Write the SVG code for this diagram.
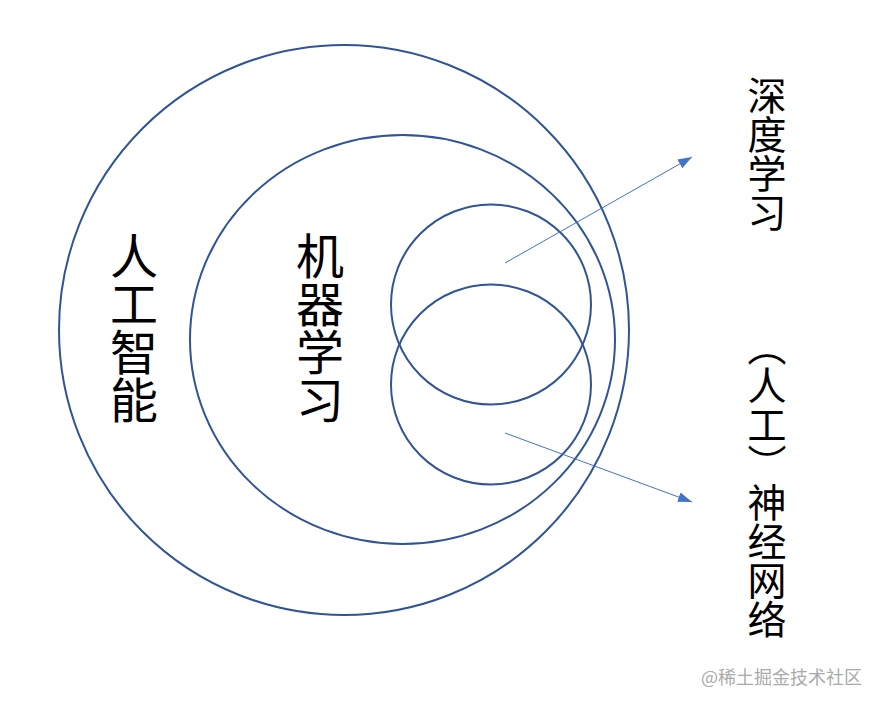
<svg xmlns="http://www.w3.org/2000/svg" width="883" height="707" viewBox="0 0 883 707">
  <style>
    .ring { fill: none; stroke: #2F5597; stroke-width: 2; }
    .arrow { fill: none; stroke: #4472C4; stroke-width: 1; }
    .vt { font-family: "Noto Sans CJK SC", "Noto Sans", sans-serif; fill: #000; writing-mode: vertical-rl; }
    .big { font-size: 48px; }
    .mid { font-size: 39px; }
    .wm { font-family: "Noto Sans CJK SC", "Noto Sans", sans-serif; font-size: 18px; fill: #aaaaaa; }
  </style>
  <defs>
    <marker id="ah" viewBox="0 0 14 10" markerWidth="14" markerHeight="10" refX="14" refY="5" orient="auto" markerUnits="userSpaceOnUse">
      <path d="M0,0 L14,5 L0,10 Z" fill="#4472C4"/>
    </marker>
  </defs>
  <rect width="883" height="707" fill="#ffffff"/>
  <g id="ai">
    <circle class="ring" cx="344" cy="330" r="285"/>
    <text class="vt big" x="134" y="232">人工智能</text>
  </g>
  <g id="ml">
    <ellipse class="ring" cx="402.5" cy="339.5" rx="212.5" ry="204.5"/>
    <text class="vt big" x="320" y="232">机器学习</text>
  </g>
  <g id="dl">
    <circle class="ring" cx="491" cy="304.5" r="100"/>
  </g>
  <g id="nn">
    <circle class="ring" cx="491" cy="384.5" r="100"/>
  </g>
  <g id="label-dl">
    <text class="vt mid" x="767" y="76">深度学习</text>
  </g>
  <g id="label-nn">
    <text class="vt mid" x="767" y="327">（人工）神经网络</text>
  </g>
  <g id="connectors">
    <line class="arrow" x1="505" y1="263" x2="692" y2="157" marker-end="url(#ah)"/>
    <line class="arrow" x1="505" y1="433" x2="692" y2="502" marker-end="url(#ah)"/>
  </g>
  <text class="wm" x="701" y="684">@稀土掘金技术社区</text>
</svg>
